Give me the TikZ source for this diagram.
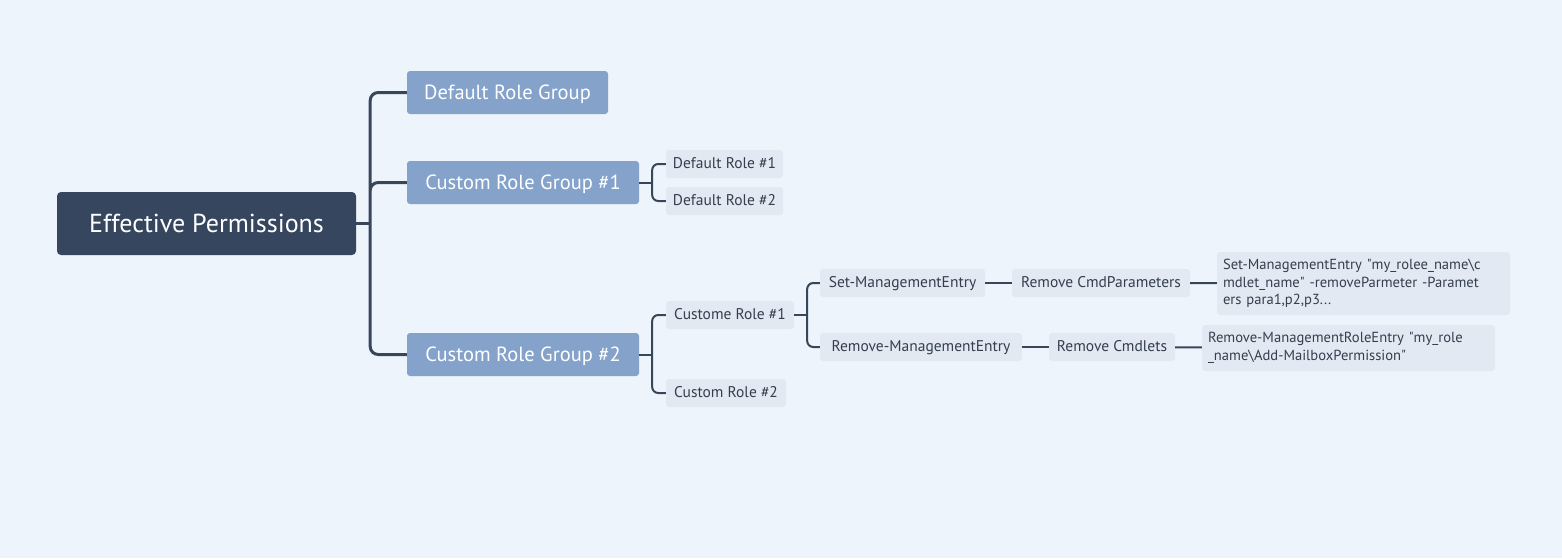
\documentclass[tikz,border=0pt]{standalone}
\usepackage{fontspec}
\setmainfont{PT Sans}
\definecolor{bgc}{RGB}{237,244,251}
\definecolor{rootc}{RGB}{53,70,94}
\definecolor{grpc}{RGB}{132,162,202}
\definecolor{leafc}{RGB}{226,233,242}
\definecolor{linec}{RGB}{56,70,90}
\definecolor{textc}{RGB}{52,62,78}
\begin{document}
\begin{tikzpicture}[x=1pt,y=-1pt,
	root/.style={fill=rootc,text=white,rounded corners=4pt,inner sep=0pt,minimum width=299pt,minimum height=63pt,text height=22pt,text depth=5pt,font=\fontsize{26}{30}\selectfont},
	grp/.style={fill=grpc,text=white,rounded corners=3pt,inner sep=0pt,minimum height=43pt,text height=17.5pt,text depth=4pt,font=\fontsize{20.5}{24}\selectfont},
	leaf/.style={fill=leafc,text=textc,rounded corners=3pt,inner sep=0pt,minimum height=28pt,text height=13pt,text depth=3.5pt,font=\fontsize{15.5}{18}\selectfont},
	cmd/.style={fill=leafc,text=textc,rounded corners=3pt,align=left,text width=281pt,inner xsep=6pt,inner ysep=0pt,font=\fontsize{14.6}{17.5}\selectfont},
	link/.style={draw=linec,line width=3pt,rounded corners=8pt},
	sublink/.style={draw=linec,line width=2pt,rounded corners=6pt}]
	\fill[bgc] (0,0) rectangle (1562,558);
	\useasboundingbox (0,0) rectangle (1562,558);
	% root and groups
	\node[root] (perm) at (206.5,223.5) {Effective Permissions};
	\node[grp,minimum width=201pt] (drg) at (507.5,92.5) {Default Role Group};
	\node[grp,minimum width=232pt] (crg1) at (523,182.5) {Custom Role Group \#1};
	\node[grp,minimum width=232pt] (crg2) at (523,354.5) {Custom Role Group \#2};
	% roles
	\node[leaf,minimum width=117pt] (dr1) at (724.5,164) {Default Role \#1};
	\node[leaf,minimum width=117pt] (dr2) at (724.5,201) {Default Role \#2};
	\node[leaf,minimum width=128pt] (cr1) at (730,315) {Custome Role \#1};
	\node[leaf,minimum width=120pt] (cr2) at (726,393) {Custom Role \#2};
	% entries
	\node[leaf,minimum width=165pt] (sme) at (902.5,283) {Set-ManagementEntry};
	\node[leaf,minimum width=202pt] (rme) at (921,347) {Remove-ManagementEntry};
	\node[leaf,minimum width=178pt] (rcp) at (1101,283) {Remove CmdParameters};
	\node[leaf,minimum width=126pt] (rcl) at (1112,347) {Remove Cmdlets};
	\node[cmd,minimum height=63pt] (cmd1) at (1363.5,283.5) {Set-ManagementEntry \textquotedbl my\_rolee\_name\textbackslash c\\mdlet\_name\textquotedbl{} -removeParmeter -Paramet\\ers para1,p2,p3...};
	\node[cmd,minimum height=46pt] (cmd2) at (1348.5,348) {Remove-ManagementRoleEntry \textquotedbl my\_role\\\_name\textbackslash Add-MailboxPermission\textquotedbl};
	% connectors
	\draw[link] (perm.east) -- ++(14,0) coordinate (j0);
	\draw[link] (j0) |- (drg.west) (j0) |- (crg1.west) (j0) |- (crg2.west);
	\draw[sublink] (crg1.east) -- ++(13,0) coordinate (j1);
	\draw[sublink] (j1) |- (dr1.west) (j1) |- (dr2.west);
	\draw[sublink] (crg2.east) -- ++(13,0) coordinate (j2);
	\draw[sublink] (j2) |- (cr1.west) (j2) |- (cr2.west);
	\draw[sublink] (cr1.east) -- ++(13,0) coordinate (j3);
	\draw[sublink] (j3) |- (sme.west) (j3) |- (rme.west);
	\draw[sublink] (sme) -- (rcp);
	\draw[sublink] (rcp) -- (cmd1);
	\draw[sublink] (rme) -- (rcl);
	\draw[sublink] (rcl) -- (cmd2);
\end{tikzpicture}
\end{document}
